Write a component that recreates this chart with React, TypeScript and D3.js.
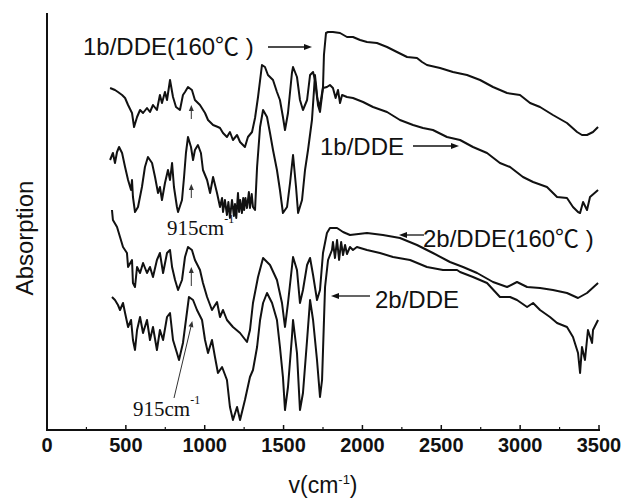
import React from "react";
import * as d3 from "d3";

// wavenumber (cm-1), absorption (arbitrary units)
const curve1b160: [number, number][] = [
  [400,342],[431,340],[450,338],[476,335],[495,332],[514,325],[539,317],[552,303],[571,313],[590,320],[609,317],[634,322],[653,318],[672,325],[697,320],[716,335],[729,327],[748,338],[761,330],[780,350],[799,333],[818,323],[843,320],[862,335],[875,338],[894,343],[919,340],[938,330],[970,325],[1002,317],[1021,310],[1053,305],[1084,303],[1097,302],[1116,297],[1141,293],[1160,298],[1179,290],[1205,295],[1224,288],[1255,283],[1274,293],[1300,298],[1319,312],[1338,333],[1363,365],[1382,363],[1401,355],[1433,350],[1458,338],[1477,330],[1496,313],[1509,300],[1528,317],[1553,357],[1560,363],[1585,353],[1604,330],[1623,320],[1649,330],[1668,355],[1687,358],[1699,350],[1712,333],[1725,323],[1737,330],[1750,343],[1756,375],[1769,397],[1782,398],[1813,398],[1858,397],[1902,393],[1940,393],[1985,390],[2029,388],[2092,387],[2156,383],[2219,378],[2283,373],[2346,372],[2378,368],[2409,365],[2492,362],[2574,358],[2663,355],[2746,350],[2828,343],[2917,337],[2999,335],[3063,327],[3126,323],[3208,315],[3297,307],[3361,298],[3392,295],[3424,295],[3462,298],[3494,303]
];
const curve1b: [number, number][] = [
  [400,270],[418,277],[431,267],[444,278],[457,283],[476,277],[495,263],[514,250],[533,240],[539,250],[545,233],[558,218],[577,223],[602,243],[621,263],[640,273],[666,267],[685,253],[704,237],[716,243],[729,230],[748,247],[767,260],[780,250],[793,267],[805,243],[824,223],[831,218],[856,230],[869,253],[881,277],[894,293],[913,283],[926,270],[938,280],[957,285],[976,277],[989,260],[1015,250],[1034,237],[1053,253],[1078,237],[1097,223],[1110,232],[1116,218],[1128,230],[1141,215],[1150,228],[1160,212],[1173,230],[1185,214],[1192,226],[1200,212],[1211,237],[1218,218],[1225,230],[1236,217],[1244,232],[1250,220],[1258,232],[1268,222],[1280,238],[1287,222],[1298,236],[1306,223],[1319,220],[1332,263],[1351,303],[1370,320],[1395,313],[1414,297],[1433,280],[1458,260],[1477,240],[1496,217],[1522,223],[1541,247],[1560,275],[1579,243],[1592,217],[1617,230],[1636,260],[1655,280],[1680,310],[1693,340],[1699,355],[1706,345],[1718,325],[1731,318],[1750,342],[1775,343],[1794,345],[1813,342],[1830,332],[1845,340],[1858,327],[1871,335],[1902,333],[1940,332],[2004,328],[2067,323],[2156,318],[2238,310],[2321,305],[2384,302],[2447,300],[2536,293],[2619,290],[2701,283],[2790,277],[2872,267],[2936,263],[3018,253],[3082,248],[3170,243],[3234,233],[3297,232],[3335,223],[3367,218],[3380,217],[3399,228],[3424,220],[3443,233],[3494,240]
];
const curve2b160: [number, number][] = [
  [412,220],[418,210],[444,203],[463,193],[482,183],[507,177],[514,163],[539,170],[545,147],[558,143],[571,163],[590,157],[609,167],[634,157],[653,163],[672,153],[697,170],[716,177],[736,157],[761,177],[780,180],[793,163],[812,150],[831,140],[856,150],[875,173],[894,183],[919,180],[938,170],[970,160],[989,147],[1015,133],[1046,120],[1078,128],[1097,113],[1116,120],[1141,110],[1179,103],[1224,97],[1268,88],[1287,100],[1306,127],[1338,153],[1370,172],[1414,165],[1458,150],[1490,127],[1509,103],[1528,127],[1560,173],[1585,160],[1604,127],[1623,140],[1649,165],[1668,172],[1687,155],[1712,130],[1731,140],[1750,177],[1775,197],[1794,202],[1839,202],[1877,198],[1921,195],[2029,197],[2130,195],[2238,192],[2346,185],[2447,177],[2555,168],[2638,163],[2727,157],[2828,148],[2917,143],[2980,148],[3044,143],[3126,142],[3208,140],[3297,137],[3367,132],[3424,137],[3494,147]
];
const curve2b: [number, number][] = [
  [412,133],[431,130],[450,125],[463,120],[482,127],[495,117],[514,103],[533,110],[545,90],[558,80],[571,100],[590,113],[609,97],[634,110],[653,90],[672,103],[697,80],[716,100],[736,90],[761,113],[780,117],[799,90],[824,77],[837,70],[862,87],[881,110],[900,133],[926,130],[951,120],[983,110],[1002,90],[1021,77],[1046,90],[1065,73],[1084,57],[1110,63],[1141,50],[1160,23],[1179,10],[1205,23],[1224,10],[1255,30],[1287,53],[1306,60],[1332,83],[1351,110],[1370,127],[1395,137],[1427,127],[1458,110],[1477,83],[1496,53],[1509,20],[1528,43],[1553,93],[1560,110],[1585,77],[1604,20],[1623,37],[1649,90],[1668,130],[1687,110],[1712,70],[1731,33],[1744,50],[1763,143],[1782,170],[1807,180],[1813,188],[1826,172],[1839,190],[1852,170],[1865,188],[1877,175],[1890,185],[1902,176],[1921,183],[1940,180],[1965,183],[2029,180],[2111,177],[2194,173],[2302,170],[2409,163],[2511,160],[2600,160],[2619,158],[2701,153],[2790,147],[2872,133],[2936,133],[2980,130],[3044,123],[3082,127],[3126,120],[3189,113],[3234,107],[3297,103],[3335,93],[3367,77],[3380,57],[3392,83],[3411,70],[3430,100],[3456,87],[3462,100],[3494,110]
];

const majorTicks = [0, 500, 1000, 1500, 2000, 2500, 3000, 3500];
const minorTicks = [250, 750, 1250, 1750, 2250, 2750, 3250];
const markWave = 915;

const W = 625, H = 500;
const x = d3.scaleLinear().domain([0, 3500]).range([47, 599]);
const y = d3.scaleLinear().domain([0, 417]).range([430, 13]);
const line = d3.line<[number, number]>().x(d => x(d[0])).y(d => y(d[1]));

const sans = "'Liberation Sans', Arial, 'Noto Sans CJK SC', sans-serif";
const serif = "'Liberation Serif', 'Times New Roman', serif";

function Arrow({ x1, y1, x2, y2, w = 1.3, head = 8, hw = 3, color = "#111" }: any) {
  const ang = Math.atan2(y2 - y1, x2 - x1);
  const bx = x2 - head * Math.cos(ang), by = y2 - head * Math.sin(ang);
  const px = -Math.sin(ang) * hw, py = Math.cos(ang) * hw;
  return (
    <g>
      <line x1={x1} y1={y1} x2={bx} y2={by} stroke={color} strokeWidth={w} />
      <polygon points={`${x2},${y2} ${bx + px},${by + py} ${bx - px},${by - py}`} fill={color} />
    </g>
  );
}

export default function App() {
  const xm = x(markWave);
  return (
    <svg width={W} height={H} style={{ display: "block", position: "absolute", left: 0, top: 0, background: "#fff" }}>
      <rect width={W} height={H} fill="#fff" />
      {[curve1b160, curve1b, curve2b160, curve2b].map((c, i) => (
        <path key={i} d={line(c) || ""} fill="none" stroke="#111" strokeWidth={2} strokeLinejoin="round" />
      ))}
      {/* axes */}
      <line x1={47} y1={13} x2={47} y2={431} stroke="#111" strokeWidth={2} />
      <line x1={46} y1={430} x2={600} y2={430} stroke="#111" strokeWidth={2} />
      {majorTicks.map(t => (
        <g key={t}>
          <line x1={x(t)} x2={x(t)} y1={430} y2={425} stroke="#111" strokeWidth={1.5} />
          <text x={x(t)} y={452} textAnchor="middle" fontFamily={sans} fontWeight="bold" fontSize={20} fill="#111">{t}</text>
        </g>
      ))}
      {minorTicks.map(t => (
        <line key={t} x1={x(t)} x2={x(t)} y1={430} y2={427} stroke="#111" strokeWidth={1.2} />
      ))}
      <text x={323} y={493} textAnchor="middle" fontFamily={sans} fontSize={23} fill="#111">
        v(cm<tspan dy={-9} fontSize={13}>-1</tspan><tspan dy={9}>)</tspan>
      </text>
      <text transform="translate(33,238) rotate(-90)" textAnchor="middle" fontFamily={sans} fontSize={24} fill="#111">Absorption</text>

      {/* labels */}
      <text x={83} y={55} fontFamily={sans} fontSize={24} fill="#111">1b/DDE(160℃ )</text>
      <Arrow x1={268} y1={47} x2={312} y2={47} />
      <text x={320} y={155} fontFamily={sans} fontSize={24} fill="#111">1b/DDE</text>
      <Arrow x1={413} y1={146} x2={459} y2={146} />
      <text x={423} y={247} fontFamily={sans} fontSize={24} fill="#111">2b/DDE(160℃ )</text>
      <Arrow x1={424} y1={235} x2={399} y2={235} />
      <text x={375} y={308} fontFamily={sans} fontSize={24} fill="#111">2b/DDE</text>
      <Arrow x1={370} y1={296} x2={331} y2={296} />

      {/* 915 markers */}
      <Arrow x1={xm} y1={119} x2={xm} y2={105} w={1} head={6} hw={2.5} color="#333" />
      <Arrow x1={xm} y1={198} x2={xm} y2={184} w={1} head={6} hw={2.5} color="#333" />
      <Arrow x1={xm} y1={286} x2={xm} y2={267} w={1} head={6} hw={2.5} color="#333" />
      <Arrow x1={174} y1={398} x2={xm + 1} y2={321} w={1} head={6} hw={2.5} color="#333" />
      <text x={167} y={235} fontFamily={serif} fontSize={21} fill="#111">
        915cm<tspan dy={-12} fontSize={12}>-1</tspan>
      </text>
      <text x={133} y={416} fontFamily={serif} fontSize={21} fill="#111">
        915cm<tspan dy={-12} fontSize={12}>-1</tspan>
      </text>
    </svg>
  );
}
